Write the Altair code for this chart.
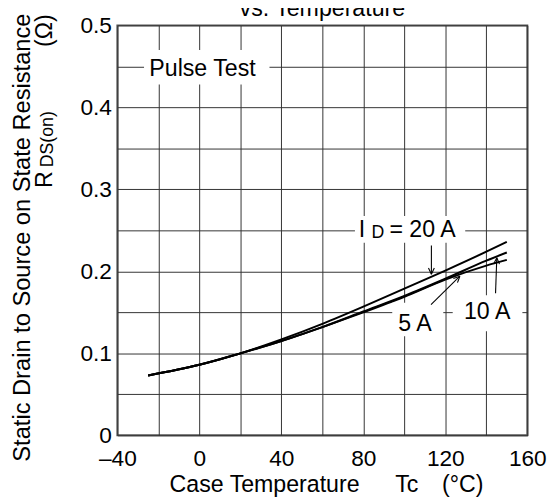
import altair as alt
import pandas as pd
import numpy as np

# ---- data ----
temps = [-25, 0, 20, 40, 60, 80, 100, 120, 140, 150]
r_20a = [0.073, 0.086, 0.100, 0.117, 0.136, 0.157, 0.179, 0.201, 0.224, 0.236]
r_10a = [0.073, 0.086, 0.100, 0.115, 0.132, 0.151, 0.170, 0.191, 0.213, 0.223]
r_5a = [0.073, 0.086, 0.100, 0.115, 0.132, 0.150, 0.169, 0.190, 0.207, 0.214]
series = ["20 A", "10 A", "5 A"]

x_ticks = list(range(-40, 161, 20))
y_ticks = [round(i * 0.05, 2) for i in range(11)]

# annotation boxes (white backgrounds behind labels)
box_x1 = [-27.0, 75.9, 94.1, 123.6]
box_x2 = [34.2, 129.7, 119.0, 157.6]
box_y1 = [0.428, 0.235, 0.1208, 0.127]
box_y2 = [0.470, 0.2674, 0.1616, 0.171]

# annotation texts (left-aligned, baseline)
lab_text = ["Pulse Test", "I", "= 20 A", "5 A", "10 A"]
lab_x = [-24.4, 77.8, 92.7, 97.0, 129.1]
lab_y = [0.4377, 0.2422, 0.2422, 0.1272, 0.142]
sub_text = ["D"]
sub_x = [84.0]
sub_y = [0.2404]

# arrows: start -> tip
arr_x0 = [113.2, 113.0, 144.5]
arr_y0 = [0.2314, 0.1593, 0.1733]
arr_x1 = [113.2, 127.1, 145.1]
arr_y1 = [0.1965, 0.1941, 0.2166]

FONT = "Liberation Sans"
W, H = 416, 416
PX_X = W / 200.0
PX_Y = H / 0.5

df = pd.DataFrame({
    "temp": temps * 3,
    "r": r_20a + r_10a + r_5a,
    "id": [series[0]] * len(temps) + [series[1]] * len(temps) + [series[2]] * len(temps),
})

boxes = pd.DataFrame({"temp": box_x1, "temp2": box_x2, "r": box_y1, "r2": box_y2})
labels = pd.DataFrame({"temp": lab_x, "r": lab_y, "t": lab_text})
subs = pd.DataFrame({"temp": sub_x, "r": sub_y, "t": sub_text})

# arrow shafts + arrowhead arms
segs = []
for x0, y0, x1, y1 in zip(arr_x0, arr_y0, arr_x1, arr_y1):
    segs.append((x0, y0, x1, y1))
    dx = (x1 - x0) * PX_X
    dy = -(y1 - y0) * PX_Y
    L = np.hypot(dx, dy)
    bx, by = -dx / L, -dy / L
    for ang in (np.radians(25), -np.radians(25)):
        ax = 7 * (bx * np.cos(ang) - by * np.sin(ang))
        ay = 7 * (bx * np.sin(ang) + by * np.cos(ang))
        segs.append((x1, y1, x1 + ax / PX_X, y1 - ay / PX_Y))
arrows = pd.DataFrame(segs, columns=["temp", "r", "temp2", "r2"])

xscale = alt.Scale(domain=[-40, 160], nice=False, zero=False)
yscale = alt.Scale(domain=[0, 0.5], nice=False, zero=False)

xaxis = alt.Axis(
    title=None, values=x_ticks, grid=True, ticks=False, tickSize=0, domain=False,
    labelExpr="datum.value % 40 == 0 ? (datum.value < 0 ? '\u2013' + abs(datum.value) : '' + datum.value) : ''",
    labelFont=FONT, labelFontSize=23, labelColor="black", labelBaseline="alphabetic",
    labelPadding=31, labelFlush=False, labelOverlap=False,
    gridColor="#333", gridWidth=1,
)
yaxis = alt.Axis(
    title=None, values=y_ticks, grid=True, ticks=False, tickSize=0, domain=False,
    labelExpr="round(datum.value * 20) % 2 == 0 ? (datum.value == 0 ? '0' : format(datum.value, '.1f')) : ''",
    labelFont=FONT, labelFontSize=23, labelColor="black", labelAlign="right",
    labelBaseline="middle", labelPadding=6, labelFlush=False, labelOverlap=False,
    gridColor="#333", gridWidth=1,
)

X = alt.X("temp:Q", scale=xscale, axis=xaxis)
Y = alt.Y("r:Q", scale=yscale, axis=yaxis)

lines = alt.Chart(df).mark_line(color="black", strokeWidth=2, interpolate="monotone").encode(
    x=X, y=Y, detail="id:N"
)
rects = alt.Chart(boxes).mark_rect(color="white").encode(
    x=X, x2="temp2:Q", y=Y, y2="r2:Q"
)
arrow_l = alt.Chart(arrows).mark_rule(color="black", strokeWidth=1.1).encode(
    x=X, x2="temp2:Q", y=Y, y2="r2:Q"
)
lab_l = alt.Chart(labels).mark_text(
    font=FONT, fontSize=23.5, color="black", align="left", baseline="alphabetic"
).encode(x=X, y=Y, text="t:N")
sub_l = alt.Chart(subs).mark_text(
    font=FONT, fontSize=18, color="black", align="left", baseline="alphabetic"
).encode(x=X, y=Y, text="t:N")


def px_text(text, x, y, size, align="left", angle=0):
    d = pd.DataFrame({"t": [text]})
    kw = dict(font=FONT, fontSize=size, color="black", align=align, baseline="alphabetic")
    if angle:
        kw["angle"] = angle
    return alt.Chart(d).mark_text(**kw).encode(
        x=alt.value(x), y=alt.value(y), text="t:N"
    )


extra = [
    px_text("vs. Temperature", 208, -10, 23.5, align="center"),
    px_text("Case Temperature", 53, 474, 23.5),
    px_text("Tc", 282, 474, 23.5),
    px_text("(\u00b0C)", 329.5, 474, 23.5),
    px_text("Static Drain to Source on State Resistance", -89, -12, 24, align="right", angle=270),
    px_text("R", -66, 165, 23.5, angle=270),
    px_text("DS(on)", -65, 144, 18, angle=270),
    px_text("(\u03a9)", -66, 22, 23.5, angle=270),
]

chart = alt.layer(lines, rects, arrow_l, lab_l, sub_l, *extra).properties(
    width=W, height=H,
    autosize=alt.AutoSizeParams(type="none"),
    padding={"left": 111, "top": 14, "right": 22, "bottom": 63},
    background="white",
).configure_view(stroke="#555", strokeWidth=2)

chart.save("out.html", embed_options={"renderer": "svg", "actions": False})
